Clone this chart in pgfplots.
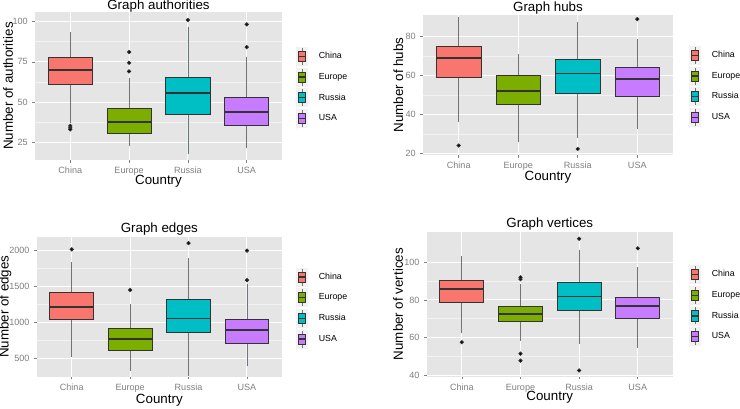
\documentclass[border=0pt]{standalone}
\usepackage{fontspec}
\setmainfont{Liberation Sans}
\usepackage{pgfplots}
\pgfplotsset{compat=1.18}
\usepgfplotslibrary{statistics}

\definecolor{cChina}{HTML}{F8766D}
\definecolor{cEurope}{HTML}{7CAE00}
\definecolor{cRussia}{HTML}{00BFC4}
\definecolor{cUSA}{HTML}{C77CFF}
\definecolor{panelbg}{HTML}{E5E5E5}
\definecolor{minorgrid}{HTML}{F2F2F2}
\definecolor{ticktext}{HTML}{7F7F7F}
\definecolor{boxline}{HTML}{333333}

\pgfplotsset{
  gg/.style={
    scale only axis, clip=true,
    xmin=0.4, xmax=4.6, xtick={1,2,3,4},
    xticklabels={China,Europe,Russia,USA},
    axis background/.style={fill=panelbg},
    axis line style={draw=none},
    tick align=outside, tick pos=left,
    major tick length=1.9pt, minor tick length=0pt,
    tick style={draw=ticktext, line width=0.5pt},
    minor y tick num=1, scaled y ticks=false,
    xmajorgrids, ymajorgrids, yminorgrids,
    major grid style={draw=white, line width=0.8pt},
    minor grid style={draw=minorgrid, line width=0.5pt},
    /pgf/number format/assume math mode=true,
    /pgf/number format/1000 sep={},
    tick label style={font=\fontsize{6.8}{8}\selectfont, text=ticktext},
    label style={font=\fontsize{7.6}{9}\selectfont},
    title style={font=\fontsize{9.2}{11}\selectfont},
    every axis title/.style={at={(axis description cs:0.5,1)}, anchor=base, yshift=3pt},
    every axis x label/.style={at={(axis description cs:0.5,0)}, anchor=base},
    every axis y label/.style={at={(axis description cs:0,0.5)}, rotate=90, anchor=base},
    boxplot/draw direction=y,
    boxplot/box extend=0.75,
    boxplot/every whisker/.style={draw=black!55, line width=0.6pt},
    boxplot/every median/.style={line width=1.4pt},
    boxplot/draw/lower whisker/.code={%
      \draw[/pgfplots/boxplot/every whisker/.try]
        (boxplot box cs:\pgfplotsboxplotvalue{lower whisker},0.5)
        -- (boxplot box cs:\pgfplotsboxplotvalue{lower quartile},0.5);},
    boxplot/draw/upper whisker/.code={%
      \draw[/pgfplots/boxplot/every whisker/.try]
        (boxplot box cs:\pgfplotsboxplotvalue{upper whisker},0.5)
        -- (boxplot box cs:\pgfplotsboxplotvalue{upper quartile},0.5);},
    legend cell align=left,
    legend style={at={(axis description cs:1,0.49)}, anchor=west,
      draw=none, fill=none, inner sep=0pt, row sep=0pt,
      font=\fontsize{6.6}{8}\selectfont, nodes={inner sep=0pt}},
  },
  bx/.style={forget plot, draw=boxline, line width=0.6pt, fill=#1, mark=*, mark size=1.25pt,
    mark options={draw=none, fill=black}},
  lk/.style={legend image code/.code={
    \fill[minorgrid] (0,-7.5pt) rectangle (8.25pt,7.5pt);
    \draw[white, line width=0.5pt] (0,-7.5pt) -- (8.25pt,-7.5pt) (0,7.5pt) -- (8.25pt,7.5pt);
    \draw[black!55, line width=0.6pt] (4.1pt,-6.4pt) -- (4.1pt,6.4pt);
    \draw[boxline, line width=0.6pt, fill=#1] (1.3pt,-3.8pt) rectangle (6.9pt,3.8pt);
    \draw[boxline, line width=1pt] (1.3pt,0) -- (6.9pt,0);
    \path (16.5pt,0);
  }},
}
\newcommand\ggkeys{%
  \addlegendimage{lk=cChina}\addlegendimage{lk=cEurope}%
  \addlegendimage{lk=cRussia}\addlegendimage{lk=cUSA}%
  \legend{China,Europe,Russia,USA}}

\begin{document}
\begin{tikzpicture}
\path[use as bounding box] (0,0) rectangle (555pt,-306pt);

% ---- Graph authorities
\begin{axis}[gg, at={(26.25pt,-120pt)}, anchor=south west,
  width=185.25pt, height=111pt, ymin=14, ymax=106, ytick={25,50,75,100},
  title={Graph authorities}, xlabel={Country}, ylabel={Number of authorities},
  xlabel style={yshift=-18pt}, ylabel style={yshift=16.5pt},
  title style={yshift=-0.8pt}, legend style={xshift=10.5pt}]
\addplot[bx=cChina, boxplot prepared={draw position=1, lower whisker=37, lower quartile=61,
  median=70.2, upper quartile=78, upper whisker=93.3}]
  table[row sep=\\, y index=0] {35.2\\ 34\\ 33\\};
\addplot[bx=cEurope, boxplot prepared={draw position=2, lower whisker=22.7, lower quartile=30.7,
  median=37.8, upper quartile=46, upper whisker=64.9}]
  table[row sep=\\, y index=0] {69.1\\ 74.4\\ 81.1\\};
\addplot[bx=cRussia, boxplot prepared={draw position=3, lower whisker=18, lower quartile=42.6,
  median=55.7, upper quartile=65.3, upper whisker=96.8}]
  table[row sep=\\, y index=0] {101\\};
\addplot[bx=cUSA, boxplot prepared={draw position=4, lower whisker=21.2, lower quartile=35.7,
  median=43.9, upper quartile=52.9, upper whisker=77.9}]
  table[row sep=\\, y index=0] {84.2\\ 98.3\\};
\ggkeys
\end{axis}

% ---- Graph hubs
\begin{axis}[gg, at={(317.25pt,-116.25pt)}, anchor=south west,
  width=187.5pt, height=105pt, ymin=19.1, ymax=91.2, ytick={20,40,60,80},
  title={Graph hubs}, xlabel={Country}, ylabel={Number of hubs},
  xlabel style={yshift=-18.75pt}, ylabel style={yshift=15pt},
  legend style={xshift=12pt}]
\addplot[bx=cChina, boxplot prepared={draw position=1, lower whisker=36, lower quartile=59.1,
  median=68.9, upper quartile=75.2, upper whisker=90}]
  table[row sep=\\, y index=0] {24\\};
\addplot[bx=cEurope, boxplot prepared={draw position=2, lower whisker=26, lower quartile=45.2,
  median=52.2, upper quartile=59.9, upper whisker=71.1}]
  coordinates {};
\addplot[bx=cRussia, boxplot prepared={draw position=3, lower whisker=28.1, lower quartile=50.9,
  median=61.1, upper quartile=68.3, upper whisker=87.7}]
  table[row sep=\\, y index=0] {22.2\\};
\addplot[bx=cUSA, boxplot prepared={draw position=4, lower whisker=32.4, lower quartile=49.2,
  median=58.1, upper quartile=64.1, upper whisker=78.6}]
  table[row sep=\\, y index=0] {89.1\\};
\ggkeys
\end{axis}

% ---- Graph edges
\begin{axis}[gg, at={(27.5pt,-282.5pt)}, anchor=south west,
  width=184pt, height=105pt, ymin=244, ymax=2195, ytick={500,1000,1500,2000},
  title={Graph edges}, xlabel={Country}, ylabel={Number of edges},
  xlabel style={yshift=-20.25pt}, ylabel style={yshift=21pt},
  legend style={xshift=10.5pt}]
\addplot[bx=cChina, boxplot prepared={draw position=1, lower whisker=524, lower quartile=1039,
  median=1215, upper quartile=1415, upper whisker=1847}]
  table[row sep=\\, y index=0] {2019\\};
\addplot[bx=cEurope, boxplot prepared={draw position=2, lower whisker=329, lower quartile=617,
  median=765, upper quartile=916, upper whisker=1253}]
  table[row sep=\\, y index=0] {1452\\};
\addplot[bx=cRussia, boxplot prepared={draw position=3, lower whisker=250, lower quartile=855,
  median=1055, upper quartile=1318, upper whisker=1895}]
  table[row sep=\\, y index=0] {2105\\};
\addplot[bx=cUSA, boxplot prepared={draw position=4, lower whisker=390, lower quartile=705,
  median=895, upper quartile=1040, upper whisker=1540}]
  table[row sep=\\, y index=0] {1590\\ 2000\\};
\ggkeys
\end{axis}

% ---- Graph vertices
\begin{axis}[gg, at={(320pt,-282.5pt)}, anchor=south west,
  width=184.7pt, height=108.75pt, ymin=39.3, ymax=116.2, ytick={40,60,80,100},
  title={Graph vertices}, xlabel={Country}, ylabel={Number of vertices},
  xlabel style={yshift=-17.8pt}, ylabel style={yshift=17.8pt},
  legend style={xshift=12pt}]
\addplot[bx=cChina, boxplot prepared={draw position=1, lower whisker=62.4, lower quartile=78.6,
  median=85.7, upper quartile=90.6, upper whisker=103.5}]
  table[row sep=\\, y index=0] {57.6\\};
\addplot[bx=cEurope, boxplot prepared={draw position=2, lower whisker=58.3, lower quartile=68.6,
  median=72.5, upper quartile=76.7, upper whisker=88.4}]
  table[row sep=\\, y index=0] {91\\ 92\\ 51.5\\ 47.8\\};
\addplot[bx=cRussia, boxplot prepared={draw position=3, lower whisker=56.8, lower quartile=74.2,
  median=81.8, upper quartile=89.4, upper whisker=106.5}]
  table[row sep=\\, y index=0] {112.4\\ 42.6\\};
\addplot[bx=cUSA, boxplot prepared={draw position=4, lower whisker=54.5, lower quartile=70.4,
  median=76.7, upper quartile=81.5, upper whisker=97.4}]
  table[row sep=\\, y index=0] {107.4\\};
\ggkeys
\end{axis}
\end{tikzpicture}
\end{document}
